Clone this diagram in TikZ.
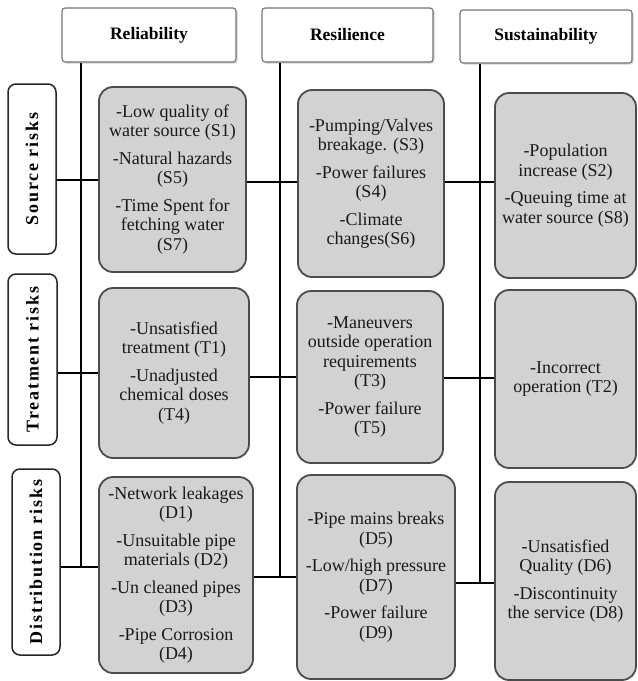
\documentclass[tikz,border=0pt]{standalone}
\usepackage{fontspec}
\setmainfont{Liberation Serif}
\newfontfamily\lblfont[LetterSpace=10]{Liberation Serif}
\usetikzlibrary{shadows}
\tikzset{
  hdr/.style={draw=black!55, line width=1.1pt, fill=white, rounded corners=3pt,
    drop shadow={shadow xshift=1.5pt, shadow yshift=-1.5pt, opacity=0.35},
    font=\fontsize{17.5}{20}\selectfont\bfseries, inner sep=0pt},
  rowlbl/.style={draw=black!85, line width=1.5pt, fill=white, rounded corners=8pt,
    font=\fontsize{18}{20}\selectfont\lblfont\bfseries, inner sep=0pt},
  riskbox/.style={draw=black!70, line width=1.8pt, fill=gray!35, rounded corners=14pt,
    align=center, inner sep=0pt, text=black!90,
    font=\fontsize{18}{19.5}\selectfont},
  conn/.style={line width=2.8pt, black}
}
\begin{document}
\begin{tikzpicture}[x=1pt, y=-1pt]
\useasboundingbox (0,0) rectangle (638,681);
% headers
\node[hdr, minimum width=174pt, minimum height=54pt] (hRel) at (149,35) {Reliability};
\node[hdr, minimum width=171pt, minimum height=54pt] (hRes) at (347.5,35) {Resilience};
\node[hdr, minimum width=172pt, minimum height=53pt] (hSus) at (546,36.5) {Sustainability};
% row labels
\node[rowlbl, minimum width=48pt, minimum height=170pt] (lSrc) at (32,169) {\rotatebox{90}{Source risks}};
\node[rowlbl, minimum width=49pt, minimum height=171pt] (lTrt) at (32.5,359.5) {\rotatebox{90}{Treatment risks}};
\node[rowlbl, minimum width=48pt, minimum height=186pt] (lDis) at (36,562) {\rotatebox{90}{Distribution risks}};
% row 1
\node[riskbox, minimum width=147pt, minimum height=185pt] (S1) at (172.5,179.5)
  {-Low quality of\\water source (S1)\\[8pt]-Natural hazards\\(S5)\\[8pt]-Time Spent for\\fetching water\\(S7)};
\node[riskbox, minimum width=146pt, minimum height=187pt] (S3) at (371,183.5)
  {-Pumping/Valves\\breakage. (S3)\\[8pt]-Power failures\\(S4)\\[8pt]-Climate\\changes(S6)};
\node[riskbox, minimum width=141pt, minimum height=185pt] (S2) at (565.5,185.5)
  {-Population\\increase (S2)\\[8pt]-Queuing time at\\water source (S8)};
% row 2
\node[riskbox, minimum width=150pt, minimum height=170pt] (T1) at (174,373)
  {-Unsatisfied\\treatment (T1)\\[8pt]-Unadjusted\\chemical doses\\(T4)};
\node[riskbox, minimum width=146pt, minimum height=172pt] (T3) at (370,377)
  {-Maneuvers\\outside operation\\requirements\\(T3)\\[8pt]-Power failure\\(T5)};
\node[riskbox, minimum width=141pt, minimum height=178pt] (T2) at (565.5,379)
  {-Incorrect\\operation (T2)};
% row 3
\node[riskbox, minimum width=154pt, minimum height=196pt] (D1) at (176,575)
  {-Network leakages\\(D1)\\[8pt]-Unsuitable pipe\\materials (D2)\\[8pt]-Un cleaned pipes\\(D3)\\[8pt]-Pipe Corrosion\\(D4)};
\node[riskbox, minimum width=158pt, minimum height=204pt] (D5) at (376,577)
  {-Pipe mains breaks\\(D5)\\[8pt]-Low/high pressure\\(D7)\\[8pt]-Power failure\\(D9)};
\node[riskbox, minimum width=141pt, minimum height=198pt] (D6) at (565.5,581)
  {-Unsatisfied\\Quality (D6)\\[8pt]-Discontinuity\\the service (D8)};
% vertical spines
\coordinate (v1) at (81,567);
\coordinate (v2) at (280,577);
\coordinate (v3) at (480,583);
\draw[conn] (v1 |- hRel.south) -- (v1);
\draw[conn] (v2 |- hRes.south) -- (v2);
\draw[conn] (v3 |- hSus.south) -- (v3);
% row connectors
\coordinate (r1a) at (0,180);
\coordinate (r1b) at (0,182);
\coordinate (r2a) at (0,373);
\coordinate (r2b) at (0,377);
\coordinate (r2c) at (0,378);
\coordinate (r3a) at (0,567);
\coordinate (r3b) at (0,577);
\coordinate (r3c) at (0,583);
\draw[conn] (lSrc.east |- r1a) -- (S1.west |- r1a);
\draw[conn] (S1.east |- r1b) -- (S3.west |- r1b);
\draw[conn] (S3.east |- r1b) -- (S2.west |- r1b);
\draw[conn] (lTrt.east |- r2a) -- (T1.west |- r2a);
\draw[conn] (T1.east |- r2b) -- (T3.west |- r2b);
\draw[conn] (T3.east |- r2c) -- (T2.west |- r2c);
\draw[conn] (lDis.east |- r3a) -- (D1.west |- r3a);
\draw[conn] (D1.east |- r3b) -- (D5.west |- r3b);
\draw[conn] (D5.east |- r3c) -- (D6.west |- r3c);
\end{tikzpicture}
\end{document}
